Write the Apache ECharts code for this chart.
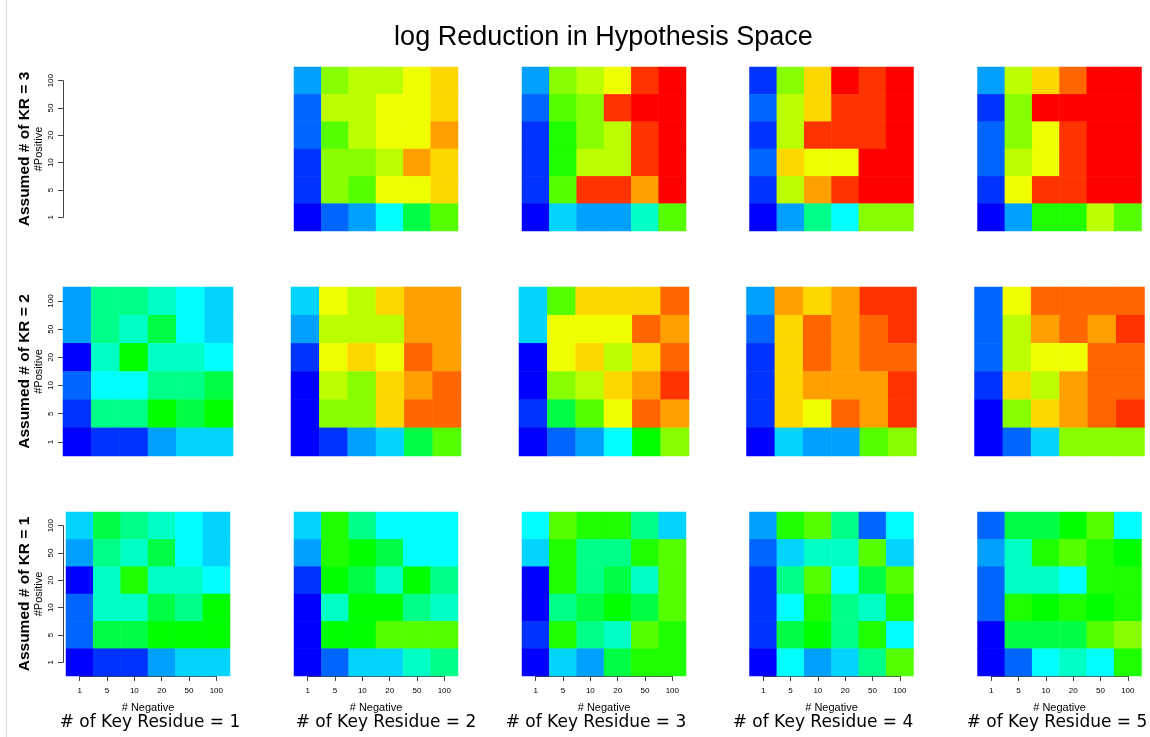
<!DOCTYPE html>
<html>
<head>
<meta charset="utf-8">
<title>log Reduction in Hypothesis Space</title>
<script src="https://cdn.jsdelivr.net/npm/echarts@6/dist/echarts.min.js"></script>
<style>
  html, body { margin: 0; padding: 0; background: #fff; }
  #chart { width: 1150px; height: 737px; }
</style>
</head>
<body>
<div id="chart"></div>
<script>
// Axis categories
const negLabels = ['1', '5', '10', '20', '50', '100'];
const posLabels = ['1', '5', '10', '20', '50', '100'];

// Discrete log-reduction levels 0..19, blue (low) to red (high)
const palette = [
  '#0000FF', '#0033FF', '#0066FF', '#00A0FF', '#00D4FF',
  '#00FFFF', '#00FFC4', '#00FF88', '#00FF44', '#00FF00',
  '#1EFF00', '#55FF00', '#88FF00', '#BBFF00', '#F0FF00',
  '#FFD700', '#FFA000', '#FF6600', '#FF3300', '#FF0000'
];

// Each matrix: rows = #Positive 100,50,20,10,5,1 (top to bottom); cols = #Negative 1..100
const kr3_res2 = [
  [3, 12, 13, 13, 14, 15],
  [2, 13, 13, 14, 14, 15],
  [2, 11, 13, 14, 14, 16],
  [1, 12, 12, 13, 16, 15],
  [1, 12, 11, 14, 14, 15],
  [0, 2, 3, 5, 8, 11]
];
const kr3_res3 = [
  [3, 12, 13, 14, 18, 19],
  [2, 11, 12, 18, 19, 19],
  [1, 10, 12, 13, 18, 19],
  [1, 10, 13, 13, 18, 19],
  [1, 11, 18, 18, 16, 19],
  [0, 4, 3, 3, 6, 11]
];
const kr3_res4 = [
  [1, 12, 15, 19, 18, 19],
  [2, 13, 15, 18, 18, 19],
  [1, 13, 18, 18, 18, 19],
  [2, 15, 14, 14, 19, 19],
  [1, 13, 16, 18, 19, 19],
  [0, 3, 7, 5, 12, 12]
];
const kr3_res5 = [
  [3, 13, 15, 17, 19, 19],
  [1, 12, 19, 19, 19, 19],
  [2, 12, 14, 18, 19, 19],
  [2, 13, 14, 18, 19, 19],
  [1, 14, 18, 18, 19, 19],
  [0, 3, 10, 10, 13, 11]
];

const kr2_res1 = [
  [3, 7, 7, 6, 5, 4],
  [3, 7, 6, 8, 5, 4],
  [0, 6, 9, 6, 6, 5],
  [2, 5, 5, 7, 7, 8],
  [1, 7, 7, 9, 8, 9],
  [0, 1, 1, 3, 4, 4]
];
const kr2_res2 = [
  [4, 14, 13, 15, 16, 16],
  [3, 13, 13, 13, 16, 16],
  [1, 14, 15, 14, 17, 16],
  [0, 13, 12, 15, 16, 17],
  [0, 12, 12, 15, 17, 17],
  [0, 1, 3, 4, 8, 11]
];
const kr2_res3 = [
  [4, 11, 15, 15, 15, 17],
  [4, 14, 14, 14, 17, 16],
  [0, 14, 15, 13, 15, 17],
  [0, 12, 13, 15, 16, 18],
  [1, 8, 11, 14, 17, 16],
  [0, 2, 3, 5, 9, 12]
];
const kr2_res4 = [
  [3, 16, 15, 16, 18, 18],
  [2, 15, 17, 16, 17, 18],
  [1, 15, 17, 16, 17, 17],
  [1, 15, 16, 16, 16, 18],
  [1, 15, 14, 17, 16, 18],
  [0, 4, 3, 3, 11, 12]
];
const kr2_res5 = [
  [2, 14, 17, 17, 17, 17],
  [2, 13, 16, 17, 16, 18],
  [2, 13, 14, 14, 17, 17],
  [1, 15, 13, 16, 17, 17],
  [0, 12, 15, 16, 17, 18],
  [0, 2, 4, 12, 12, 12]
];

const kr1_res1 = [
  [4, 8, 7, 6, 5, 4],
  [3, 7, 6, 8, 5, 4],
  [0, 6, 10, 6, 6, 5],
  [2, 6, 6, 8, 7, 9],
  [2, 8, 8, 9, 9, 9],
  [0, 1, 1, 3, 4, 4]
];
const kr1_res2 = [
  [4, 10, 7, 5, 5, 5],
  [3, 10, 9, 8, 5, 5],
  [1, 9, 8, 6, 9, 7],
  [0, 6, 9, 9, 7, 6],
  [0, 9, 9, 11, 11, 11],
  [0, 2, 4, 4, 6, 7]
];
const kr1_res3 = [
  [5, 11, 10, 10, 7, 4],
  [4, 10, 7, 7, 10, 11],
  [0, 10, 7, 8, 6, 11],
  [0, 7, 8, 9, 8, 11],
  [1, 10, 7, 6, 11, 10],
  [0, 4, 3, 8, 10, 10]
];
const kr1_res4 = [
  [3, 10, 11, 7, 2, 5],
  [2, 4, 6, 6, 11, 4],
  [1, 7, 11, 5, 8, 11],
  [1, 5, 10, 7, 6, 10],
  [1, 8, 9, 7, 10, 5],
  [0, 5, 3, 4, 7, 11]
];
const kr1_res5 = [
  [2, 8, 8, 9, 11, 5],
  [3, 6, 10, 11, 10, 9],
  [2, 6, 6, 5, 10, 10],
  [2, 10, 9, 10, 9, 10],
  [0, 8, 8, 8, 11, 12],
  [0, 2, 5, 6, 5, 10]
];

const rowTitles = ['Assumed # of KR = 3', 'Assumed # of KR = 2', 'Assumed # of KR = 1'];
const colTitles = ['# of Key Residue = 1', '# of Key Residue = 2', '# of Key Residue = 3',
                   '# of Key Residue = 4', '# of Key Residue = 5'];

// Panel matrices by [row][col]; row 0 = KR 3, col 0 = 1 key residue
const panels = [
  [null, kr3_res2, kr3_res3, kr3_res4, kr3_res5],
  [kr2_res1, kr2_res2, kr2_res3, kr2_res4, kr2_res5],
  [kr1_res1, kr1_res2, kr1_res3, kr1_res4, kr1_res5]
];

// Layout of the panel grid (pixels)
const colCenters = [148, 376, 604, 831.5, 1059.5];
const rowBoxes = [
  { top: 67, h: 164, w: 164 },
  { top: 287, h: 169, w: 170 },
  { top: 512, h: 164, w: 164 }
];
const colTitleX = [150, 386, 596, 823, 1057];
const yAxisX = 63;

const tickFont = "'Liberation Sans Narrow', 'Liberation Sans', Arial, sans-serif";
const axisColor = '#444';

function toCells(m) {
  const out = [];
  m.forEach((row, r) => row.forEach((v, c) => out.push([c, m.length - 1 - r, v])));
  return out;
}

const grid = [], xAxis = [], yAxis = [], series = [];

function addGrid(g) { grid.push(g); return grid.length - 1; }

rowBoxes.forEach((box, r) => {
  colCenters.forEach((cx, c) => {
    const left = cx - box.w / 2;
    const cw = box.w / 6, ch = box.h / 6;
    const m = panels[r][c];
    if (m) {
      const gi = addGrid({ left: left, top: box.top, width: box.w, height: box.h });
      xAxis.push({ gridIndex: gi, type: 'category', data: negLabels, show: false });
      yAxis.push({ gridIndex: gi, type: 'category', data: posLabels, show: false });
      series.push({
        type: 'heatmap', xAxisIndex: xAxis.length - 1, yAxisIndex: yAxis.length - 1,
        data: toCells(m), itemStyle: { borderWidth: 0 },
        emphasis: { disabled: true }, silent: true
      });
    }
    // #Positive axis on the first column
    if (c === 0) {
      const gi = addGrid({ left: yAxisX, top: box.top + ch / 2, width: box.w, height: box.h - ch });
      xAxis.push({ gridIndex: gi, type: 'value', show: false, min: 0, max: 1 });
      yAxis.push({
        gridIndex: gi, type: 'category', data: posLabels, boundaryGap: false,
        axisLine: { show: true, lineStyle: { color: axisColor, width: 1 } },
        axisTick: { show: true, length: 5, alignWithLabel: true, interval: 0, lineStyle: { color: axisColor } },
        axisLabel: { rotate: 90, fontSize: 8, fontFamily: tickFont, color: '#000', margin: 8, interval: 0 },
        splitLine: { show: false },
        name: '#Positive', nameLocation: 'middle', nameGap: 19,
        nameTextStyle: { fontSize: 11, fontFamily: "'Liberation Sans', Arial, sans-serif", color: '#000' }
      });
    }
    // #Negative axis on the bottom row
    if (r === 2) {
      const gi = addGrid({ left: left + cw / 2, top: box.top, width: box.w - cw, height: box.h });
      yAxis.push({ gridIndex: gi, type: 'value', show: false, min: 0, max: 1 });
      xAxis.push({
        gridIndex: gi, type: 'category', data: negLabels, boundaryGap: false, position: 'bottom', offset: 1,
        axisLine: { show: true, lineStyle: { color: axisColor, width: 1 } },
        axisTick: { show: true, length: 5, interval: 0, lineStyle: { color: axisColor } },
        axisLabel: { fontSize: 8, fontFamily: tickFont, color: '#000', margin: 10, interval: 0 },
        splitLine: { show: false },
        name: '# Negative', nameLocation: 'middle', nameGap: 25,
        nameTextStyle: { fontSize: 11, fontFamily: "'Liberation Sans', Arial, sans-serif", color: '#000' }
      });
    }
  });
});

const graphics = [
  { type: 'line', shape: { x1: 6.5, y1: 0, x2: 6.5, y2: 737 }, style: { stroke: '#dcdcdc', lineWidth: 1 }, silent: true },
  {
    type: 'text', x: 603.5, y: 38,
    style: { text: 'log Reduction in Hypothesis Space', font: "27px 'Liberation Sans', Arial, sans-serif",
             fill: '#000', textAlign: 'center', textVerticalAlign: 'middle' }
  }
];
rowTitles.forEach((t, r) => {
  graphics.push({
    type: 'text', x: 25, y: rowBoxes[r].top + rowBoxes[r].h / 2, rotation: Math.PI / 2,
    style: { text: t, font: "bold 15.5px 'Liberation Sans', Arial, sans-serif", fill: '#000',
             textAlign: 'center', textVerticalAlign: 'middle' }
  });
});
colTitles.forEach((t, c) => {
  graphics.push({
    type: 'text', x: colTitleX[c], y: 723,
    style: { text: t, font: "17px 'DejaVu Sans', sans-serif", fill: '#000',
             textAlign: 'center', textVerticalAlign: 'middle' }
  });
});

const chart = echarts.init(document.getElementById('chart'), null, { renderer: 'canvas' });
chart.setOption({
  animation: false,
  backgroundColor: '#fff',
  grid: grid,
  xAxis: xAxis,
  yAxis: yAxis,
  visualMap: {
    type: 'continuous', show: false, min: 0, max: palette.length - 1,
    seriesIndex: series.map((s, i) => i),
    inRange: { color: palette }
  },
  series: series,
  graphic: graphics
});
</script>
</body>
</html>
